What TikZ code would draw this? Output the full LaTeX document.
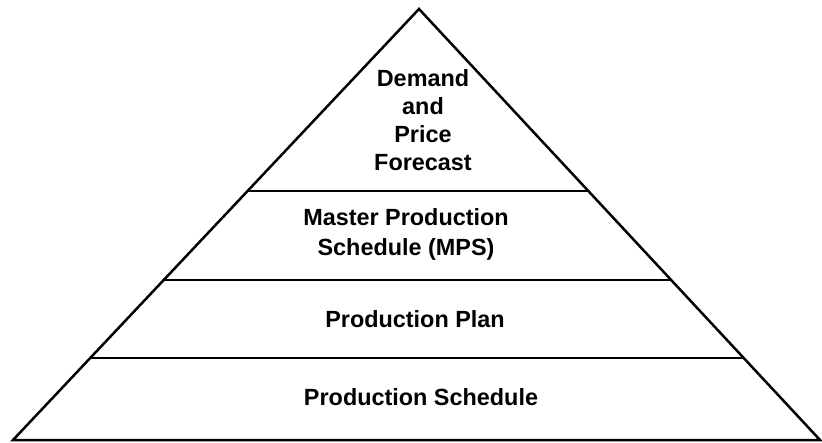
\documentclass[tikz,border=0pt]{standalone}
\usepackage{fontspec}
\setmainfont{Liberation Sans}
\usetikzlibrary{calc,positioning}
\tikzstyle{pyramid line}=[line width=1.25pt,line join=miter]
\tikzstyle{layer label}=[align=center,inner sep=0pt,font=\bfseries\fontsize{11.7}{14}\selectfont]

\begin{document}
\begin{tikzpicture}[x=0.5pt,y=-0.5pt]
  \useasboundingbox (0,0) rectangle (822,443);

  % Outline of the pyramid
  \coordinate (apex) at (419,9);
  \coordinate (baseLeft) at (13,440);
  \coordinate (baseRight) at (820,440);
  \draw[pyramid line] (baseLeft) -- (apex) -- (baseRight) -- cycle;

  % Layer boundaries
  \coordinate (cutOneL) at ($(apex)!0.4223!(baseLeft)$);
  \coordinate (cutOneR) at ($(apex)!0.4223!(baseRight)$);
  \coordinate (cutTwoL) at ($(apex)!0.6288!(baseLeft)$);
  \coordinate (cutTwoR) at ($(apex)!0.6288!(baseRight)$);
  \coordinate (cutThreeL) at ($(apex)!0.8097!(baseLeft)$);
  \coordinate (cutThreeR) at ($(apex)!0.8097!(baseRight)$);

  \draw[pyramid line] (cutOneL) -- (cutOneR);
  \draw[pyramid line] (cutTwoL) -- (cutTwoR);
  \draw[pyramid line] (cutThreeL) -- (cutThreeR);

  % Labels, top to bottom
  \node[layer label] (forecast) at (423,120) {Demand\\and\\Price\\Forecast};
  \node[layer label, font=\bfseries\fontsize{11.7}{15}\selectfont] (mps) at (406,234) {Master Production\\Schedule (MPS)};
  \node[layer label] (plan) at (415,319) {Production Plan};
  \node[layer label] (schedule) at (421,397) {Production Schedule};
\end{tikzpicture}
\end{document}
